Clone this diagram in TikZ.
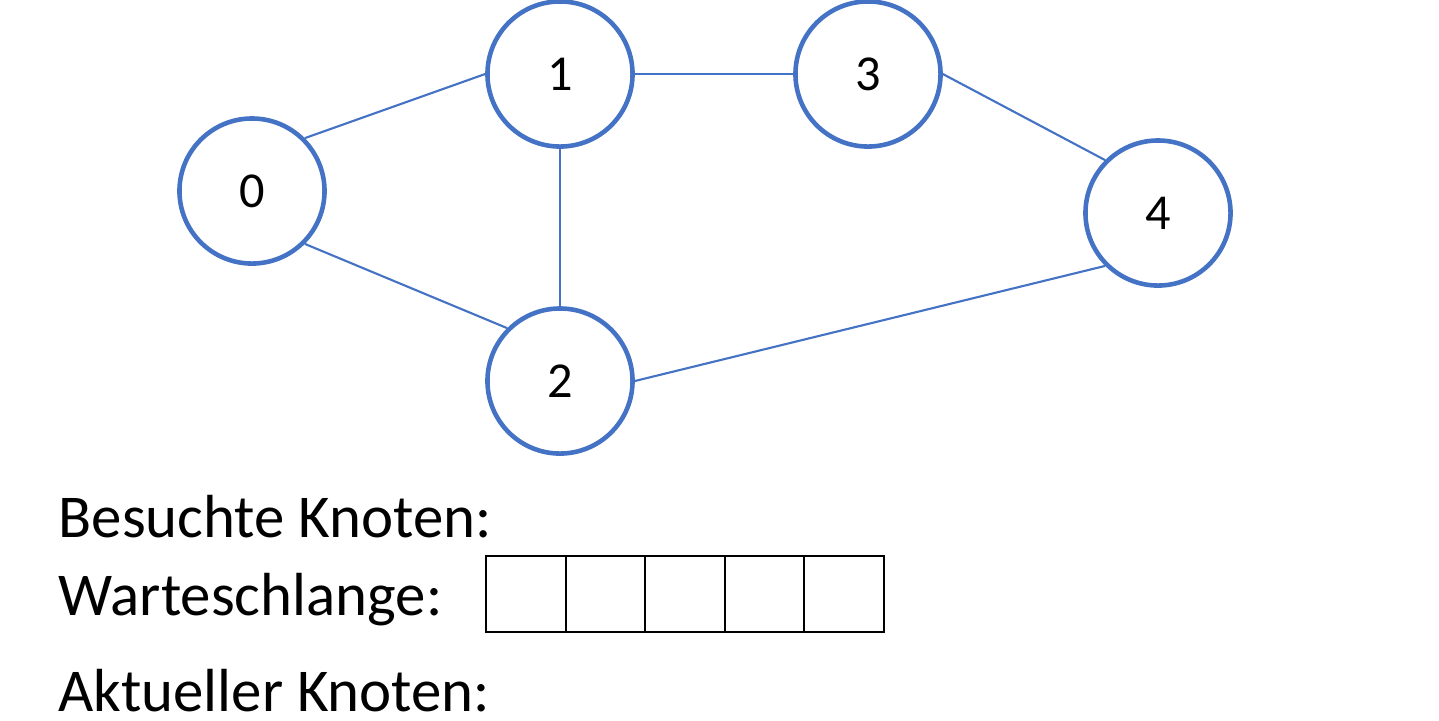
\documentclass[tikz,border=0pt]{standalone}
\usepackage{fontspec}
\setmainfont{Carlito}
\usepackage{xcolor}
\definecolor{knotenblau}{HTML}{4472C4}

\begin{document}
\begin{tikzpicture}[x=0.01cm,y=-0.01cm,
  knoten/.style={circle,draw=knotenblau,line width=1.3pt,minimum size=1.45cm,inner sep=0pt,font=\fontsize{14.3}{17}\selectfont},
  kante/.style={draw=knotenblau,line width=0.6pt},
  zelle/.style={draw=black,line width=0.6pt,minimum width=0.796cm,minimum height=0.76cm,inner sep=0pt},
  beschriftung/.style={anchor=base west,inner sep=0pt,font=\fontsize{17.3}{20}\selectfont}]
\useasboundingbox (0,0) rectangle (1439,720);
\node[knoten] (k0) at (252,191) {0};
\node[knoten] (k1) at (560,74) {1};
\node[knoten] (k2) at (560,381) {2};
\node[knoten] (k3) at (868,74) {3};
\node[knoten] (k4) at (1158,213) {4};
\draw[kante] (k0.north east) -- (k1.west);
\draw[kante] (k0.south east) -- (k2.north west);
\draw[kante] (k1.south) -- (k2.north);
\draw[kante] (k1.east) -- (k3.west);
\draw[kante] (k3.east) -- (k4.north west);
\draw[kante] (k2.east) -- (k4.south west);
\node[beschriftung] (besucht) at (58,537) {Besuchte Knoten:};
\node[beschriftung] (warte) at (58,615) {Warteschlange:};
\node[beschriftung] (aktuell) at (58,711) {Aktueller Knoten:};
\foreach \i in {1,...,5}
  \node[zelle] (w\i) at (486+79.6*\i-39.8,594) {};
\end{tikzpicture}
\end{document}
